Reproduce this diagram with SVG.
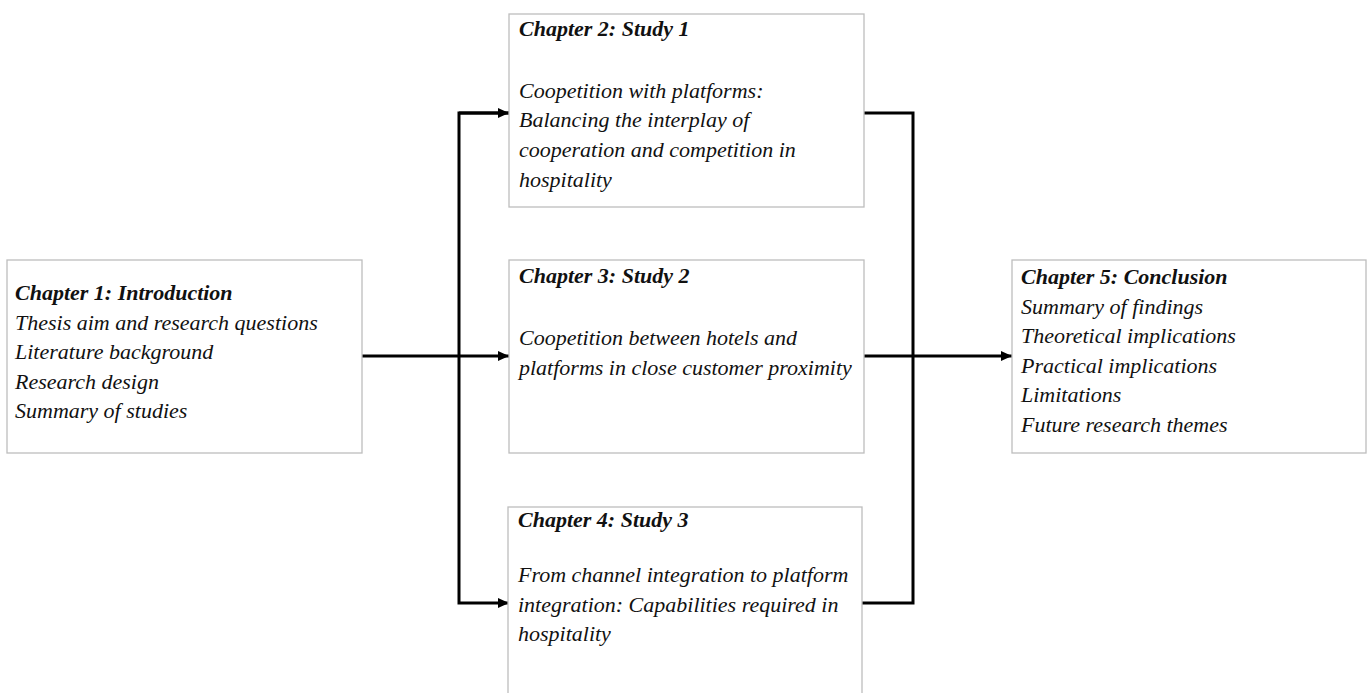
<svg xmlns="http://www.w3.org/2000/svg" width="1369" height="693" viewBox="0 0 1369 693">
<style>
  .box { fill: #ffffff; stroke: #bdbdbd; stroke-width: 1.3; }
  .t { font-family: "Liberation Serif", "Times New Roman", serif; font-style: italic; font-size: 22px; fill: #111111; }
  .h { font-weight: bold; }
  .conn { fill: none; stroke: #000000; stroke-width: 3; stroke-linejoin: miter; stroke-linecap: butt; }
</style>
<defs>
  <marker id="arrow" viewBox="0 0 10 10" refX="10" refY="5" markerUnits="userSpaceOnUse" markerWidth="11" markerHeight="11" orient="auto">
    <path d="M0,0.5 L10,5 L0,9.5 Z" fill="#000000"/>
  </marker>
</defs>
<rect width="1369" height="693" fill="#ffffff"/>

<g id="connectors">
  <line class="conn" x1="362" y1="356" x2="509" y2="356" marker-end="url(#arrow)"/>
  <polyline class="conn" points="509,113 459,113 459,603 509,603" marker-end="url(#arrow)"/>
  <line class="conn" x1="459" y1="113" x2="509" y2="113" marker-end="url(#arrow)"/>
  <polyline class="conn" points="864,113 913,113 913,603 862,603"/>
  <line class="conn" x1="864" y1="356" x2="1012" y2="356" marker-end="url(#arrow)"/>
</g>

<g id="node-ch1">
  <rect class="box" x="7" y="260" width="355" height="193"/>
  <text class="t h" x="15" y="300">Chapter 1: Introduction</text>
  <text class="t" x="15" y="329.5">Thesis aim and research questions</text>
  <text class="t" x="15" y="359">Literature background</text>
  <text class="t" x="15" y="388.5">Research design</text>
  <text class="t" x="15" y="418">Summary of studies</text>
</g>

<g id="node-ch2">
  <rect class="box" x="509" y="14" width="355" height="193"/>
  <text class="t h" x="519" y="36">Chapter 2: Study 1</text>
  <text class="t" x="519" y="97.5">Coopetition with platforms:</text>
  <text class="t" x="519" y="127">Balancing the interplay of</text>
  <text class="t" x="519" y="157">cooperation and competition in</text>
  <text class="t" x="519" y="186.5">hospitality</text>
</g>

<g id="node-ch3">
  <rect class="box" x="509" y="260" width="355" height="193"/>
  <text class="t h" x="519" y="283">Chapter 3: Study 2</text>
  <text class="t" x="519" y="345">Coopetition between hotels and</text>
  <text class="t" x="519" y="375">platforms in close customer proximity</text>
</g>

<g id="node-ch4">
  <rect class="box" x="508" y="507" width="354" height="200"/>
  <text class="t h" x="518" y="527">Chapter 4: Study 3</text>
  <text class="t" x="518" y="582">From channel integration to platform</text>
  <text class="t" x="518" y="611.5">integration: Capabilities required in</text>
  <text class="t" x="518" y="641">hospitality</text>
</g>

<g id="node-ch5">
  <rect class="box" x="1012" y="260" width="354" height="193"/>
  <text class="t h" x="1021" y="284">Chapter 5: Conclusion</text>
  <text class="t" x="1021" y="313.5">Summary of findings</text>
  <text class="t" x="1021" y="343">Theoretical implications</text>
  <text class="t" x="1021" y="372.5">Practical implications</text>
  <text class="t" x="1021" y="402">Limitations</text>
  <text class="t" x="1021" y="431.5">Future research themes</text>
</g>
</svg>
